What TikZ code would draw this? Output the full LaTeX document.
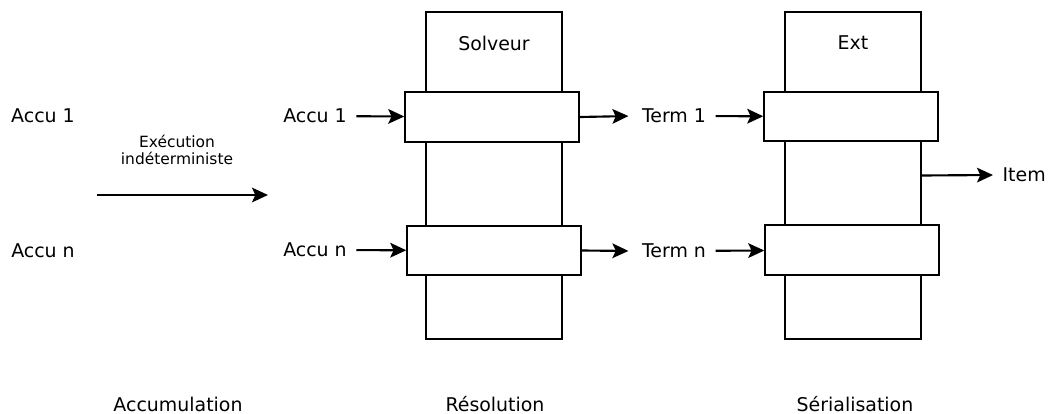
\documentclass[tikz,border=0pt]{standalone}
\usepackage{fontspec}
\setmainfont{DejaVu Sans}
\usepackage{tikz}
\usepackage{xcolor}
\usetikzlibrary{arrows.meta,positioning,calc}
\definecolor{ink}{HTML}{000000}
\definecolor{paper}{HTML}{FFFFFF}
\tikzset{
  tallbox/.style={draw=ink,fill=paper,line width=1.6pt,
                  minimum width=102pt,minimum height=245pt,inner sep=0pt},
  widebox/.style={draw=ink,fill=paper,line width=1.6pt,
                  minimum width=130pt,minimum height=37pt,inner sep=0pt},
  txt/.style={font=\fontsize{14.2}{17}\selectfont,inner sep=7pt},
  smalltxt/.style={font=\fontsize{11.6}{13}\selectfont,align=center,inner sep=0pt},
  flowarr/.style={-{Stealth[length=12pt,width=11pt,inset=2.5pt]},line width=1.6pt}
}

\begin{document}
\begin{tikzpicture}[x=0.75pt,y=-0.75pt]
      \useasboundingbox (0,0) rectangle (1051,414);

      % accumulation (left)
      \node[txt] (acc1) at (43,116) {Accu 1};
      \node[txt] (accn) at (43,251) {Accu n};
      \node[smalltxt] (execlbl) at (177,150) {Exécution\\indéterministe};
      \coordinate (execA) at (97,195);
      \coordinate (execB) at (268,195);
      \draw[flowarr] (execA) -- (execB);

      % solveur column
      \node[tallbox] (solv) at (494,175.5) {};
      \node[txt] (solvlbl) at (494,43) {Solveur};
      \node[widebox] (solv1) at (492,117) {};
      \node[widebox] (solvn) at (494,250.5) {};
      \node[txt] (in1) at (315,116) {Accu 1};
      \node[txt] (inn) at (315,250) {Accu n};
      \draw[flowarr] (in1) -- (solv1);
      \draw[flowarr] (inn) -- (solvn);

      % ext column
      \node[tallbox] (ext) at (853,175.5) {};
      \node[txt] (extlbl) at (853,43) {Ext};
      \node[widebox] (ext1) at (851,116.5) {};
      \node[widebox] (extn) at (852,250) {};
      \node[txt] (term1) at (674,116) {Term 1};
      \node[txt] (termn) at (674,251) {Term n};
      \draw[flowarr,shorten >=3pt] (solv1.east) -- (term1.west);
      \draw[flowarr,shorten >=3pt] (solvn.east) -- (termn.west);
      \draw[flowarr] (term1) -- (ext1);
      \draw[flowarr] (termn) -- (extn);
      \node[txt,anchor=west] (item) at (993,175) {Item};
      \draw[flowarr] (ext.east) -- (item.west);

      % phases
      \node[txt,inner sep=0pt] (phacc) at (178,404) {Accumulation};
      \node[txt,inner sep=0pt] (phres) at (495,404) {Résolution};
      \node[txt,inner sep=0pt] (phser) at (855,404) {Sérialisation};
    \end{tikzpicture}
\end{document}
